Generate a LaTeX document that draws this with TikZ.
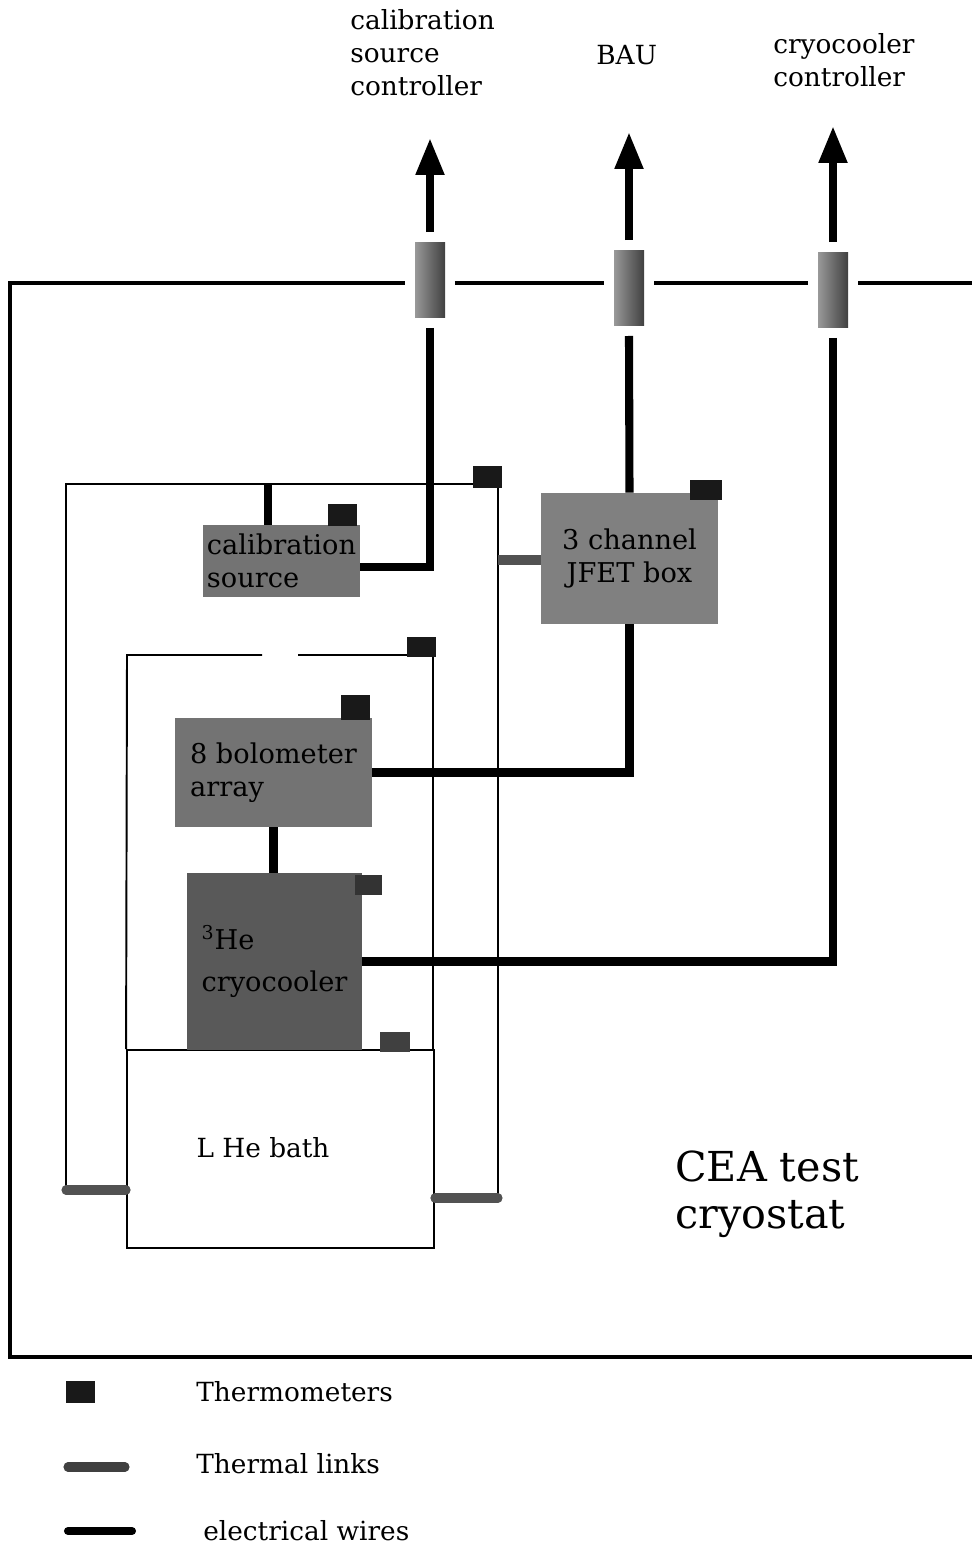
\documentclass[tikz,border=0pt]{standalone}
\usepackage{fontspec}
\setmainfont{DejaVu Serif}
\usetikzlibrary{arrows.meta,calc,positioning}
\begin{document}
\begin{tikzpicture}[x=0.02cm,y=-0.02cm,>={Triangle[length=0.74cm,width=0.54cm]},
  every node/.style={inner sep=0pt,font=\fontsize{15}{18.7}\selectfont},
  unitbox/.style={fill=black!55,align=left,font=\fontsize{15.5}{18.7}\selectfont},
  thermo/.style={fill=black!90,minimum width=0.58cm,minimum height=0.44cm},
  feedthru/.style={left color=black!40,right color=black!75,minimum width=0.6cm,minimum height=1.52cm,outer sep=0.2cm},
  wall/.style={line width=2.2pt},
  shield/.style={line width=1.1pt},
  wire/.style={line width=4.6pt},
  tlink/.style={line width=5.2pt,black!68,line cap=round}]
\useasboundingbox (0,0) rectangle (972,1549);

% outside the cryostat
\node[anchor=north west,align=left] (calctl) at (350,9) {calibration\\source\\controller};
\node[anchor=north west] (bau) at (596,45) {BAU};
\node[anchor=north west,align=left] (coolctl) at (773,33) {cryocooler\\controller};
\coordinate (caltip) at (430,138);
\coordinate (bautip) at (629,132);
\coordinate (cooltip) at (833,126);

% feedthroughs in the wall
\node[feedthru] (calft) at (430,280) {};
\node[feedthru] (bauft) at (629,288) {};
\node[feedthru] (coolft) at (833,290) {};
\draw[wire,->] (calft.north) -- (caltip);
\draw[wire,->] (bauft.north) -- (bautip);
\draw[wire,->] (coolft.north) -- (cooltip);

\coordinate (wallNW) at (10,283);
\coordinate (wallNE) at (972,283);
\coordinate (wallSW) at (10,1357);
\coordinate (wallSE) at (972,1357);
\draw[wall] (wallSE) -- (wallSW) -- (wallNW) -- (calft.west |- wallNW);
\draw[wall] (calft.east |- wallNW) -- (bauft.west |- wallNW);
\draw[wall] (bauft.east |- wallNW) -- (coolft.west |- wallNW);
\draw[wall] (coolft.east |- wallNW) -- (wallNE);

% bath and shields
\node[draw,line width=1.1pt,minimum width=6.14cm,minimum height=3.96cm] (bath) at (280.5,1149) {};
\node (bathlbl) at (263,1148) {L He bath};
\coordinate (shL) at (66,1190);
\coordinate (shR) at (498,1198);
\coordinate (shJ) at (498,560);
\coordinate (calhang) at (268,484);
\draw[shield] (shL) -- (66,484) -- (498,484) -- (shR);
\draw[shield] (bath.north west) -- (127,655) -- (262,655) (298,655) -- (433,655) -- (433,1050);
\draw[tlink] (shL) -- (shL -| bath.west);
\draw[tlink] (bath.east |- shR) -- (shR);

% units
\node[unitbox,minimum width=3.14cm,minimum height=1.44cm] (calsrc) at (281.5,561) {calibration\\source};
\node[unitbox,fill=black!50,align=center,minimum width=3.54cm,minimum height=2.62cm] (jfet) at (629.5,558.5) {3 channel\\JFET box};
\node[unitbox,minimum width=3.94cm,minimum height=2.18cm] (bolo) at (273.5,772.5) {8 bolometer\\array};
\node[unitbox,fill=black!65,font=\fontsize{15.5}{24}\selectfont,minimum width=3.5cm,minimum height=3.54cm] (cooler) at (274.5,961.5) {\textsuperscript{3}He\\cryocooler};

% electrical wires and thermal links
\draw[wire] (calhang) -- (calhang |- calsrc.north);
\draw[wire] (calft.south) |- ([yshift=-0.12cm]calsrc.east);
\draw[wire] (bauft.south) -- (jfet.north);
\draw[wire] (jfet.south) |- (bolo.east);
\draw[wire] (coolft.south) |- (cooler.east);
\draw[wire] (bolo.south) -- (bolo.south |- cooler.north);
\draw[tlink,line cap=butt] (shJ) -- (shJ -| jfet.west);

% thermometers
\node[thermo] (thshA) at (487,476.5) {};
\node[thermo] (thcal) at (342.5,515) {};
\node[thermo,minimum width=0.64cm,minimum height=0.4cm] (thjfet) at (706,490) {};
\node[thermo,minimum height=0.4cm] (thshB) at (421,647) {};
\node[thermo,minimum height=0.5cm] (thbolo) at (355,707.5) {};
\node[thermo,fill=black!80,minimum width=0.54cm,minimum height=0.4cm] (thcool) at (368.5,885) {};
\node[thermo,fill=black!75,minimum width=0.6cm,minimum height=0.4cm] (thbath) at (395,1042) {};

\node[anchor=north west,align=left,font=\fontsize{23.5}{27}\selectfont] (cea) at (675,1150) {CEA test\\cryostat};

% legend
\node[thermo] (legthermo) at (80.5,1392) {};
\node[anchor=west] (legthermotxt) at (196,1392) {Thermometers};
\coordinate (legtlA) at (68,1467);
\coordinate (legtlB) at (125,1467);
\draw[tlink,black!75] (legtlA) -- (legtlB);
\node[anchor=west] (legtltxt) at (196,1464) {Thermal links};
\coordinate (legwA) at (68,1531);
\coordinate (legwB) at (132,1531);
\draw[wire,line cap=round] (legwA) -- (legwB);
\node[anchor=west] (legwtxt) at (203,1531) {electrical wires};
\end{tikzpicture}
\end{document}
